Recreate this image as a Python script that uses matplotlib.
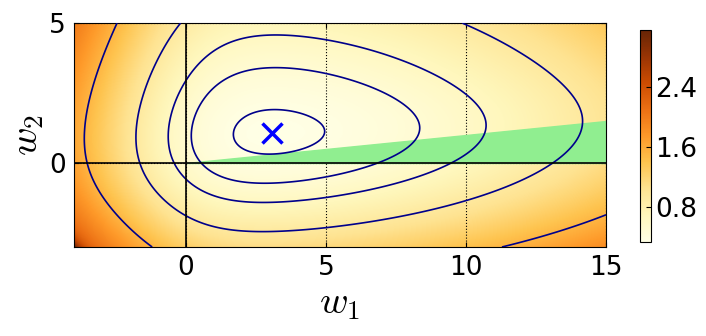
import numpy as np
import matplotlib
matplotlib.use('Agg')
from matplotlib import pyplot as plt

# regularised logistic loss over a few points, plotted on (w1, w2)
reg_lambda = 0.0073371
point_weights = [0.31302, 0.53746, 0.077524, 0.986176]
points_x = [0.986226, 0.00384409, 0.147437, 5.33606]
points_y = [-0.0041782, 0.684782, -1.47405, 4.89388]
point_offsets = [0.0599098, 0.298804, -0.102040, 35.7631]

contour_levels = [0.3564, 0.4908, 0.6378, 0.9276, 1.5096]
w1_range = [-4, 15]
w2_range = [-3, 5]

# green region of the w plane
region_w1 = [0, 15, 15]
region_w2 = [0, 0, 1.5]

x_ticks = [0, 5, 10, 15]
y_ticks = [0, 5]
cbar_ticks = [0.8, 1.6, 2.4]


def loss(W1, W2):
	total = 0.5 * reg_lambda * (W1 ** 2 + W2 ** 2)
	for c, zx, zy, b in zip(point_weights, points_x, points_y, point_offsets):
		m = W1 * zx + W2 * zy + b
		total = total + c * np.logaddexp(0, -m)
	return total


w1 = np.linspace(w1_range[0], w1_range[1], 500)
w2 = np.linspace(w2_range[0], w2_range[1], 220)
W1, W2 = np.meshgrid(w1, w2)
F = loss(W1, W2)

plt.rcParams['mathtext.fontset'] = 'cm'
fig = plt.figure(figsize=(7.06, 3.36), dpi=100)
ax = fig.add_axes([0.1048, 0.2649, 0.7536, 0.6666])
im = ax.imshow(F, origin='lower', extent=w1_range + w2_range, cmap='YlOrBr', aspect='auto')
ax.fill(region_w1, region_w2, color='lightgreen', zorder=2)
ax.contour(W1, W2, F, levels=contour_levels, colors='darkblue', linewidths=1.2, zorder=3)
ax.axhline(0, color='k', lw=1.2, zorder=4)
ax.axvline(0, color='k', lw=1.2, zorder=4)

# minimum of the loss
i = np.unravel_index(np.argmin(F), F.shape)
ax.plot(W1[i], W2[i], 'x', color='blue', ms=15, mew=2.5, zorder=5)

ax.grid(True, ls=':', color='k', lw=0.8)
ax.set_xticks(x_ticks)
ax.set_yticks(y_ticks)
ax.set_xlim(w1_range)
ax.set_ylim(w2_range)
ax.tick_params(direction='in', labelsize=19, top=True, right=True, pad=6)
ax.set_xlabel('$w_1$', fontsize=28, labelpad=2)
ax.set_ylabel('$w_2$', fontsize=28, labelpad=2)

cax = fig.add_axes([0.9065, 0.2798, 0.0156, 0.631])
cb = fig.colorbar(im, cax=cax, ticks=cbar_ticks)
cb.ax.tick_params(labelsize=19, direction='in', pad=3)

fig.savefig('out.png', dpi=100)
